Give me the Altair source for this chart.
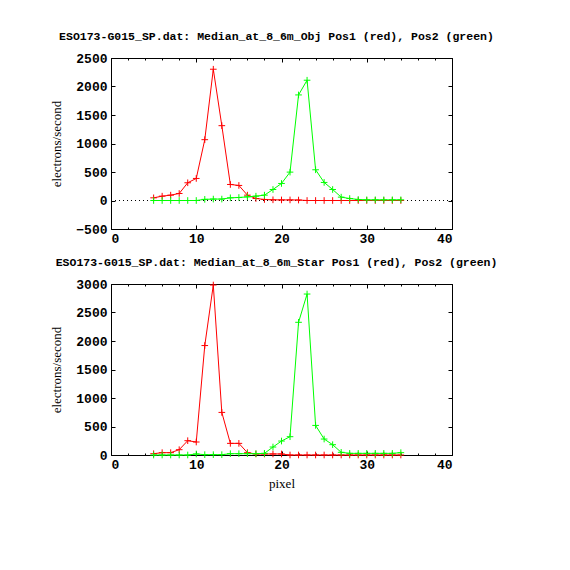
import altair as alt
import pandas as pd

pixels = [5, 6, 7, 8, 9, 10, 11, 12, 13, 14, 15, 16, 17, 18, 19,
          20, 21, 22, 23, 24, 25, 26, 27, 28, 29, 30, 31, 32, 33, 34]

obj_pos1 = [47, 76, 94, 123, 311, 387, 1067, 2303, 1313, 281, 264, 94, 35, 18, 12,
            10, 10, 8, 0, 0, 0, 0, 0, 0, 0, 0, 0, 0, 0, 0]
obj_pos2 = [0, 0, 0, 0, 0, 0, 20, 25, 25, 47, 53, 64, 76, 94, 193,
            299, 498, 1852, 2110, 539, 317, 193, 59, 35, 18, 12, 12, 12, 12, 12]

star_pos1 = [23, 41, 41, 93, 251, 228, 1920, 2982, 747, 204, 204, 41, 18, 18, 18,
             18, 0, 0, 0, 0, 0, 0, 0, 0, 0, 0, 0, 0, 0, 0]
star_pos2 = [0, 0, 0, 0, 0, 18, 6, 6, 6, 23, 23, 23, 23, 29, 140,
             245, 321, 2328, 2824, 519, 280, 181, 47, 29, 29, 29, 29, 29, 29, 41]

x_major = [0, 10, 20, 30, 40]
x_minor = [0, 2, 4, 6, 8, 10, 12, 14, 16, 18, 20, 22, 24, 26, 28, 30, 32, 34, 36, 38, 40]
obj_yticks = [-500, 0, 500, 1000, 1500, 2000, 2500]
star_yticks = [0, 500, 1000, 1500, 2000, 2500, 3000]
zero = [0]

title_obj = "ESO173-G015_SP.dat: Median_at_8_6m_Obj Pos1 (red), Pos2 (green)"
title_star = "ESO173-G015_SP.dat: Median_at_8_6m_Star Pos1 (red), Pos2 (green)"

W, H = 341, 171
PLUS = "M-1,0L1,0M0,-1L0,1"
LABEL_FONT = "Liberation Mono"
TITLE_FONT = "Liberation Serif"


def tick_axis(orient, values, size, offset):
    return alt.Axis(orient=orient, values=values, tickSize=size, offset=offset,
                    labels=False, domain=False, grid=False, title=None,
                    tickColor="black", tickWidth=1)


def panel(red, green, ydomain, yticks, title, xtitle):
    df = pd.DataFrame({"pixel": pixels, "red": red, "green": green})
    zdf = pd.DataFrame({"z": zero})
    xs = alt.Scale(domain=[0, 40], nice=False, zero=False)
    ys = alt.Scale(domain=ydomain, nice=False, zero=False)

    x_lab = alt.Axis(orient="bottom", values=x_major, ticks=False, domain=False,
                     grid=False, labelFont=LABEL_FONT, labelFontSize=13,
                     labelFontWeight="bold",
                     labelPadding=3, labelColor="black", format="d",
                     title=xtitle if xtitle else None, titleFont=TITLE_FONT,
                     titleFontSize=13, titleFontWeight="normal", titleColor="black",
                     titlePadding=6)
    y_lab = alt.Axis(orient="left", values=yticks, ticks=False, domain=False,
                     grid=False, labelFont=LABEL_FONT, labelFontSize=13,
                     labelFontWeight="bold",
                     labelPadding=4, labelColor="black", format="d",
                     title="electrons/second", titleFont=TITLE_FONT,
                     titleFontSize=13, titleFontWeight="normal", titleColor="black",
                     titlePadding=12)

    base = alt.Chart(df)
    red_line = base.mark_line(color="#ff0000", strokeWidth=1).encode(
        x=alt.X("pixel:Q", scale=xs, axis=x_lab),
        y=alt.Y("red:Q", scale=ys, axis=y_lab),
    )
    red_pts = base.mark_point(shape=PLUS, filled=False, size=44, color="#ff0000",
                              strokeWidth=1, opacity=1).encode(
        x=alt.X("pixel:Q", scale=xs, axis=tick_axis("top", x_major, 4, -H)),
        y=alt.Y("red:Q", scale=ys, axis=tick_axis("right", yticks, 4, -W)),
    )
    green_line = base.mark_line(color="#00ff00", strokeWidth=1).encode(
        x=alt.X("pixel:Q", scale=xs, axis=tick_axis("bottom", x_major, 4, -H)),
        y=alt.Y("green:Q", scale=ys, axis=tick_axis("left", yticks, 4, -W)),
    )
    green_pts = base.mark_point(shape=PLUS, filled=False, size=44, color="#00ff00",
                                strokeWidth=1, opacity=1).encode(
        x=alt.X("pixel:Q", scale=xs, axis=tick_axis("top", x_minor, 2, -H)),
        y=alt.Y("green:Q", scale=ys, axis=None),
    )
    zero_rule = alt.Chart(zdf).mark_rule(color="black", strokeWidth=1,
                                         strokeDash=[1, 3]).encode(
        y=alt.Y("z:Q", scale=ys, axis=None),
    )
    minor_top = alt.Chart(df).mark_point(opacity=0).encode(
        x=alt.X("pixel:Q", scale=xs, axis=tick_axis("bottom", x_minor, 2, -H)),
        y=alt.Y("red:Q", scale=ys, axis=None),
    )
    layers = [red_line, red_pts, green_line, green_pts, minor_top]
    if ydomain[0] < 0:
        layers.insert(0, zero_rule)
    return alt.layer(*layers).resolve_axis(x="independent", y="independent").properties(
        width=W, height=H,
        title=alt.TitleParams(title, font=LABEL_FONT, fontSize=11.5, fontWeight="bold",
                              color="black", anchor="middle", frame="group",
                              offset=10, dx=-5),
    )


top = panel(obj_pos1, obj_pos2, [-500, 2500], obj_yticks, title_obj, None)
bottom = panel(star_pos1, star_pos2, [0, 3000], star_yticks, title_star, "pixel")

chart = alt.vconcat(top, bottom, spacing=10).properties(
    padding={"left": 42, "top": 22, "right": 5, "bottom": 5},
    background="white",
).configure_view(stroke="black", strokeWidth=1).configure_axis(
    labelColor="black", tickColor="black"
)

chart.save("out.html", embed_options={"renderer": "svg", "actions": False})
